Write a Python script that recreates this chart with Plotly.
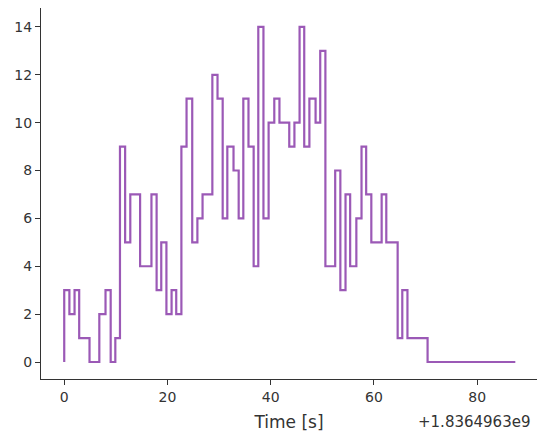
import plotly.graph_objects as go

times = [0, 0, 1.0, 2.0, 2.9, 4.9, 6.8, 8.0, 9.0, 9.9, 10.8, 11.8, 12.8, 14.7, 16.9, 17.9, 18.8, 19.8,
         20.8, 21.7, 22.7, 23.7, 24.8, 25.8, 26.8, 28.7, 29.7, 30.7, 31.6, 32.8, 33.8, 34.7, 35.7,
         36.7, 37.6, 38.6, 39.6, 40.7, 41.7, 43.6, 44.6, 45.6, 46.5, 47.5, 48.7, 49.6, 50.6, 52.5,
         53.5, 54.5, 55.4, 56.6, 57.6, 58.5, 59.5, 61.5, 62.4, 64.6, 65.5, 66.5, 70.4, 87.4]
counts = [0, 3, 2, 3, 1, 0, 2, 3, 0, 1, 9, 5, 7, 4, 7, 3, 5, 2,
          3, 2, 9, 11, 5, 6, 7, 12, 11, 6, 9, 8, 6, 11, 9,
          4, 14, 6, 10, 11, 10, 9, 10, 14, 9, 11, 10, 13, 4, 8,
          3, 7, 4, 6, 9, 7, 5, 7, 5, 1, 3, 1, 0, 0]
xticks = [0, 20, 40, 60, 80]
yticks = [0, 2, 4, 6, 8, 10, 12, 14]
offset_label = "+1.8364963e9"

fig = go.Figure(go.Scatter(x=times, y=counts, mode="lines", line=dict(shape="hv", color="#9b59b6", width=2.2)))
fig.update_layout(
    width=538, height=433, paper_bgcolor="white", plot_bgcolor="white",
    margin=dict(l=33, r=9, t=0, b=62), showlegend=False,
    font=dict(family="DejaVu Sans", color="#333333", size=14),
)
axis_common = dict(showgrid=False, zeroline=False, showline=True, linecolor="#333333", linewidth=1.2,
                   ticks="outside", ticklen=5, tickcolor="#333333", automargin=False,
                   tickfont=dict(size=14, color="#333333"))
fig.update_xaxes(range=[-4.5, 91.6], tickvals=xticks, title=dict(text="Time [s]", font=dict(size=17), standoff=12), **axis_common)
fig.update_yaxes(range=[-0.71, 14.79], tickvals=yticks, **axis_common)
fig.add_annotation(text=offset_label, xref="paper", yref="paper", x=0.99, y=-0.085, xanchor="right", yanchor="top",
                   showarrow=False, font=dict(size=15, color="#333333"))
fig.write_html("out.html")
